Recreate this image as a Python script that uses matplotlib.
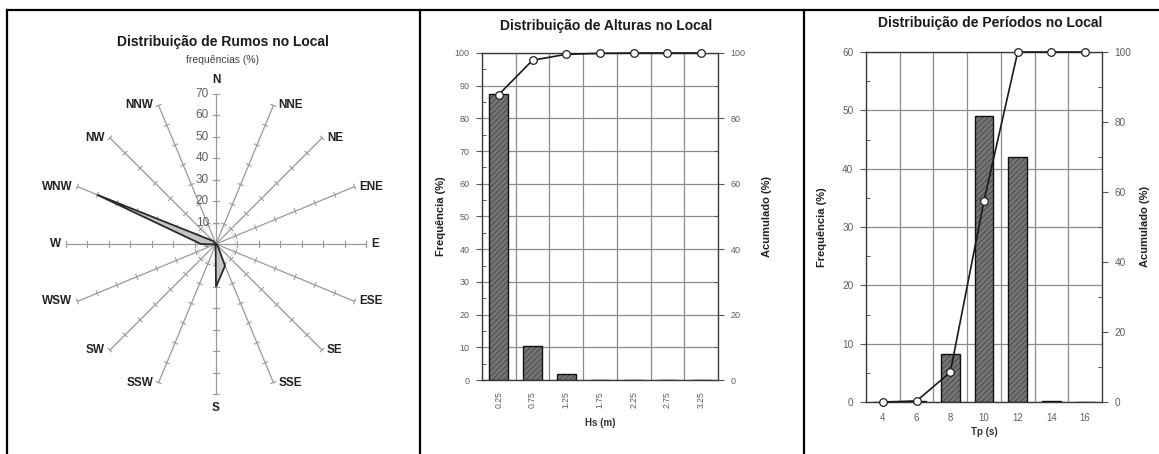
import numpy as np
import matplotlib
matplotlib.use('Agg')
from matplotlib import pyplot as plt  # noqa
from matplotlib.lines import Line2D  # noqa
from matplotlib.ticker import MultipleLocator  # noqa

plt.rcParams['font.family'] = ['Liberation Sans', 'DejaVu Sans']

W, H = 1159, 454

# rose of directions (frequency %, clockwise from N)
DIRECTIONS = ['N', 'NNE', 'NE', 'ENE', 'E', 'ESE', 'SE', 'SSE',
              'S', 'SSW', 'SW', 'WSW', 'W', 'WNW', 'NW', 'NNW']
DIR_FREQ = [0.0, 0.0, 0.0, 0.0, 0.0, 0.5, 1.0, 11.0,
            20.0, 0.5, 0.0, 0.5, 7.0, 60.0, 2.0, 0.0]
RADIAL_TICKS = [0, 10, 20, 30, 40, 50, 60, 70]

# significant height
HS_LABELS = ['0.25', '0.75', '1.25', '1.75', '2.25', '2.75', '3.25']
HS_FREQ = [87.5, 10.3, 1.7, 0.15, 0.1, 0.0, 0.0]
HS_CUM = [87.3, 97.8, 99.6, 99.9, 100.0, 100.0, 100.0]

# peak period
TP_LABELS = ['4', '6', '8', '10', '12', '14', '16']
TP_FREQ = [0.0, 0.25, 8.2, 49.0, 42.0, 0.15, 0.0]
TP_CUM = [0.0, 0.3, 8.5, 57.5, 100.0, 100.0, 100.0]

TICK_GREY = '#5e5e5e'
GRID_GREY = '#8c8c8c'


def px_axes(fig, left, top, right, bottom):
    return fig.add_axes([left / W, 1 - bottom / H, (right - left) / W, (bottom - top) / H])


def draw_rose(fig):
    cx, cy = 216, 244
    k = 70 / 150.0  # data units per pixel
    ax = px_axes(fig, 8, 70, 419, 454)
    ax.set_xlim((8 - cx) * k, (419 - cx) * k)
    ax.set_ylim((cy - 454) * k, (cy - 70) * k)
    ax.axis('off')

    bearings = np.deg2rad(np.arange(16) * 22.5)
    spoke_col = '#9a9a9a'
    half = 2.6 * k
    for b in bearings:
        sx, sy = np.sin(b), np.cos(b)
        ax.plot([0, 70 * sx], [0, 70 * sy], color=spoke_col, lw=0.9, zorder=1)
        for r in RADIAL_TICKS[1:]:
            px, py = r * sx, r * sy
            ax.plot([px - half * sy, px + half * sy], [py + half * sx, py - half * sx],
                    color=spoke_col, lw=0.8, zorder=1)

    ax.add_patch(plt.Circle((0, 0), 9, fill=False, color='#d6d6d6', lw=0.6, zorder=0))

    r = np.array(DIR_FREQ)
    xs = np.append(r * np.sin(bearings), r[0] * np.sin(bearings[0]))
    ys = np.append(r * np.cos(bearings), r[0] * np.cos(bearings[0]))
    ax.fill(xs, ys, facecolor='#c4c4c4', edgecolor='#2a2a2a', lw=1.3, zorder=3)

    for v in RADIAL_TICKS:
        ax.text(-7 * k, v, str(v), ha='right', va='center', fontsize=8.5,
                color=TICK_GREY, zorder=2)

    gap = 5 * k
    for name, b in zip(DIRECTIONS, bearings):
        sx, sy = np.sin(b), np.cos(b)
        ex, ey = 70 * sx, 70 * sy
        if abs(sx) < 0.1:
            ax.text(0, ey + np.sign(sy) * 14 * k, name, ha='center', va='center',
                    fontsize=8.5, fontweight='bold', color='#222222')
        elif sx > 0:
            ax.text(ex + gap, ey, name, ha='left', va='center',
                    fontsize=8.5, fontweight='bold', color='#222222')
        else:
            ax.text(ex - gap, ey, name, ha='right', va='center',
                    fontsize=8.5, fontweight='bold', color='#222222')

    fig.text(223 / W, 1 - 42 / H, 'Distribuição de Rumos no Local', ha='center',
             va='center', fontsize=10, fontweight='bold', color='#1a1a1a')
    fig.text(223 / W, 1 - 60 / H, 'frequências (%)', ha='center', va='center',
             fontsize=7.5, color='#444444')


def draw_histogram(fig, box, labels, freq, cum, ymax, ystep, title, title_xy,
                   xlabel, xlabel_y, rotate, fsize, ylab_off, ylab2_off):
    left, top, right, bottom = box
    ax = px_axes(fig, left, top, right, bottom)
    x = np.arange(len(labels))

    ax.bar(x, freq, width=0.56, color='#767676', edgecolor='#555555', hatch='//////',
           lw=0, zorder=2)
    ax.bar(x, freq, width=0.56, fill=False, edgecolor='#111111', lw=1.0, zorder=3)

    ax.set_xlim(-0.5, len(labels) - 0.5)
    ax.set_ylim(0, ymax)
    ax.set_yticks(np.arange(0, ymax + 1, ystep))
    ax.yaxis.set_minor_locator(MultipleLocator(ystep / 2))
    ax.set_xticks(x)
    ax.set_xticklabels(labels, rotation=90 if rotate else 0)
    ax.set_xticks(x[:-1] + 0.5, minor=True)
    ax.grid(axis='y', which='major', color=GRID_GREY, lw=0.9, zorder=0)
    ax.grid(axis='x', which='minor', color=GRID_GREY, lw=0.9, zorder=0)
    ax.tick_params(axis='y', which='major', direction='out', length=4, width=0.8,
                   colors='#555555', labelcolor=TICK_GREY, labelsize=fsize, pad=5)
    ax.tick_params(axis='y', which='minor', direction='in', length=3, width=0.7,
                   colors='#555555')
    ax.tick_params(axis='x', which='both', length=0, labelcolor=TICK_GREY,
                   labelsize=fsize - 0.3, pad=8)
    for s in ax.spines.values():
        s.set_color('#3a3a3a')
        s.set_linewidth(1.0)

    ax.set_ylabel('Frequência (%)', fontsize=8, fontweight='bold', color='#222222')
    ax.yaxis.set_label_coords(-ylab_off / (right - left), 0.5)

    ax2 = ax.twinx()
    ax2.set_ylim(0, 100)
    ax2.set_yticks(np.arange(0, 101, 20))
    ax2.yaxis.set_minor_locator(MultipleLocator(10))
    ax2.tick_params(axis='y', which='major', direction='out', length=4, width=0.8,
                    colors='#555555', labelcolor=TICK_GREY, labelsize=fsize, pad=5)
    ax2.tick_params(axis='y', which='minor', direction='in', length=3, width=0.7,
                    colors='#555555')
    ax2.plot(x, cum, color='#1a1a1a', lw=1.2, marker='o', ms=5.5, mfc='white',
             mec='#222222', mew=0.9, clip_on=False, zorder=4)
    for s in ax2.spines.values():
        s.set_visible(False)
    ax2.set_ylabel('Acumulado (%)', fontsize=8, fontweight='bold', color='#222222')
    ax2.yaxis.set_label_coords(1 + ylab2_off / (right - left), 0.5)

    fig.text(title_xy[0] / W, 1 - title_xy[1] / H, title, ha='center', va='center',
             fontsize=10, fontweight='bold', color='#1a1a1a')
    fig.text((left + right) / 2 / W, 1 - xlabel_y / H, xlabel, ha='center', va='center',
             fontsize=7, fontweight='bold', color='#333333')


fig = plt.figure(figsize=(W / 100, H / 100), dpi=100)

draw_rose(fig)
draw_histogram(fig, (482, 53, 718, 380), HS_LABELS, HS_FREQ, HS_CUM, 100, 10,
               'Distribuição de Alturas no Local', (606, 26), 'Hs (m)', 423, True, 6.5,
               36, 44)
draw_histogram(fig, (866, 52, 1102, 402), TP_LABELS, TP_FREQ, TP_CUM, 60, 10,
               'Distribuição de Períodos no Local', (990, 23), 'Tp (s)', 432, False, 7.2,
               39, 38)

# panel frame
for seg in [((7, 1159), (10, 10)), ((7, 7), (10, 454)),
            ((420, 420), (10, 454)), ((804, 804), (10, 454))]:
    fig.add_artist(Line2D([p / W for p in seg[0]], [1 - p / H for p in seg[1]],
                          color='black', lw=1.6, transform=fig.transFigure))

fig.savefig('out.png', dpi=100)
